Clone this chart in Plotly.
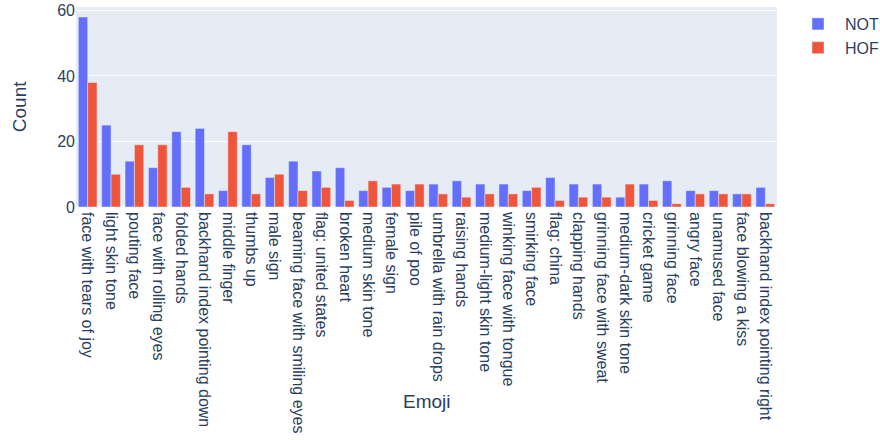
import plotly.graph_objects as go

emojis = ["face with tears of joy", "light skin tone", "pouting face", "face with rolling eyes",
          "folded hands", "backhand index pointing down", "middle finger", "thumbs up",
          "male sign", "beaming face with smiling eyes", "flag: united states", "broken heart",
          "medium skin tone", "female sign", "pile of poo", "umbrella with rain drops",
          "raising hands", "medium-light skin tone", "winking face with tongue", "smirking face",
          "flag: china", "clapping hands", "grinning face with sweat", "medium-dark skin tone",
          "cricket game", "grinning face", "angry face", "unamused face", "face blowing a kiss",
          "backhand index pointing right"]
not_counts = [58, 25, 14, 12, 23, 24, 5, 19, 9, 14, 11, 12, 5, 6, 5, 7, 8, 7, 7, 5, 9, 7, 7, 3, 7, 8, 5, 5, 4, 6]
hof_counts = [38, 10, 19, 19, 6, 4, 23, 4, 10, 5, 6, 2, 8, 7, 7, 4, 3, 4, 4, 6, 2, 3, 3, 7, 2, 1, 4, 4, 4, 1]

fig = go.Figure()
fig.add_trace(go.Bar(x=emojis, y=not_counts, name="NOT", marker_color="#636efa"))
fig.add_trace(go.Bar(x=emojis, y=hof_counts, name="HOF", marker_color="#EF553B"))
fig.update_layout(
    template="plotly",
    barmode="group",
    width=880, height=440,
    font=dict(family="Liberation Sans, Arial, sans-serif", size=16),
    margin=dict(l=76, r=103, t=7, b=233, autoexpand=False),
    xaxis=dict(tickangle=90, automargin=False, ticklabelstandoff=4),
    yaxis=dict(automargin=False),
    legend=dict(itemwidth=44),
)
fig.add_annotation(text="Emoji", xref="paper", yref="paper", x=0.5, y=-0.97,
                   xanchor="center", yanchor="middle", showarrow=False,
                   font=dict(size=19))
fig.add_annotation(text="Count", xref="paper", yref="paper", x=-0.081, y=0.5,
                   xanchor="center", yanchor="middle", showarrow=False, textangle=-90,
                   font=dict(size=19))
fig.write_html("out.html", config={"displayModeBar": False},
               post_script="document.body.style.margin='0';")
